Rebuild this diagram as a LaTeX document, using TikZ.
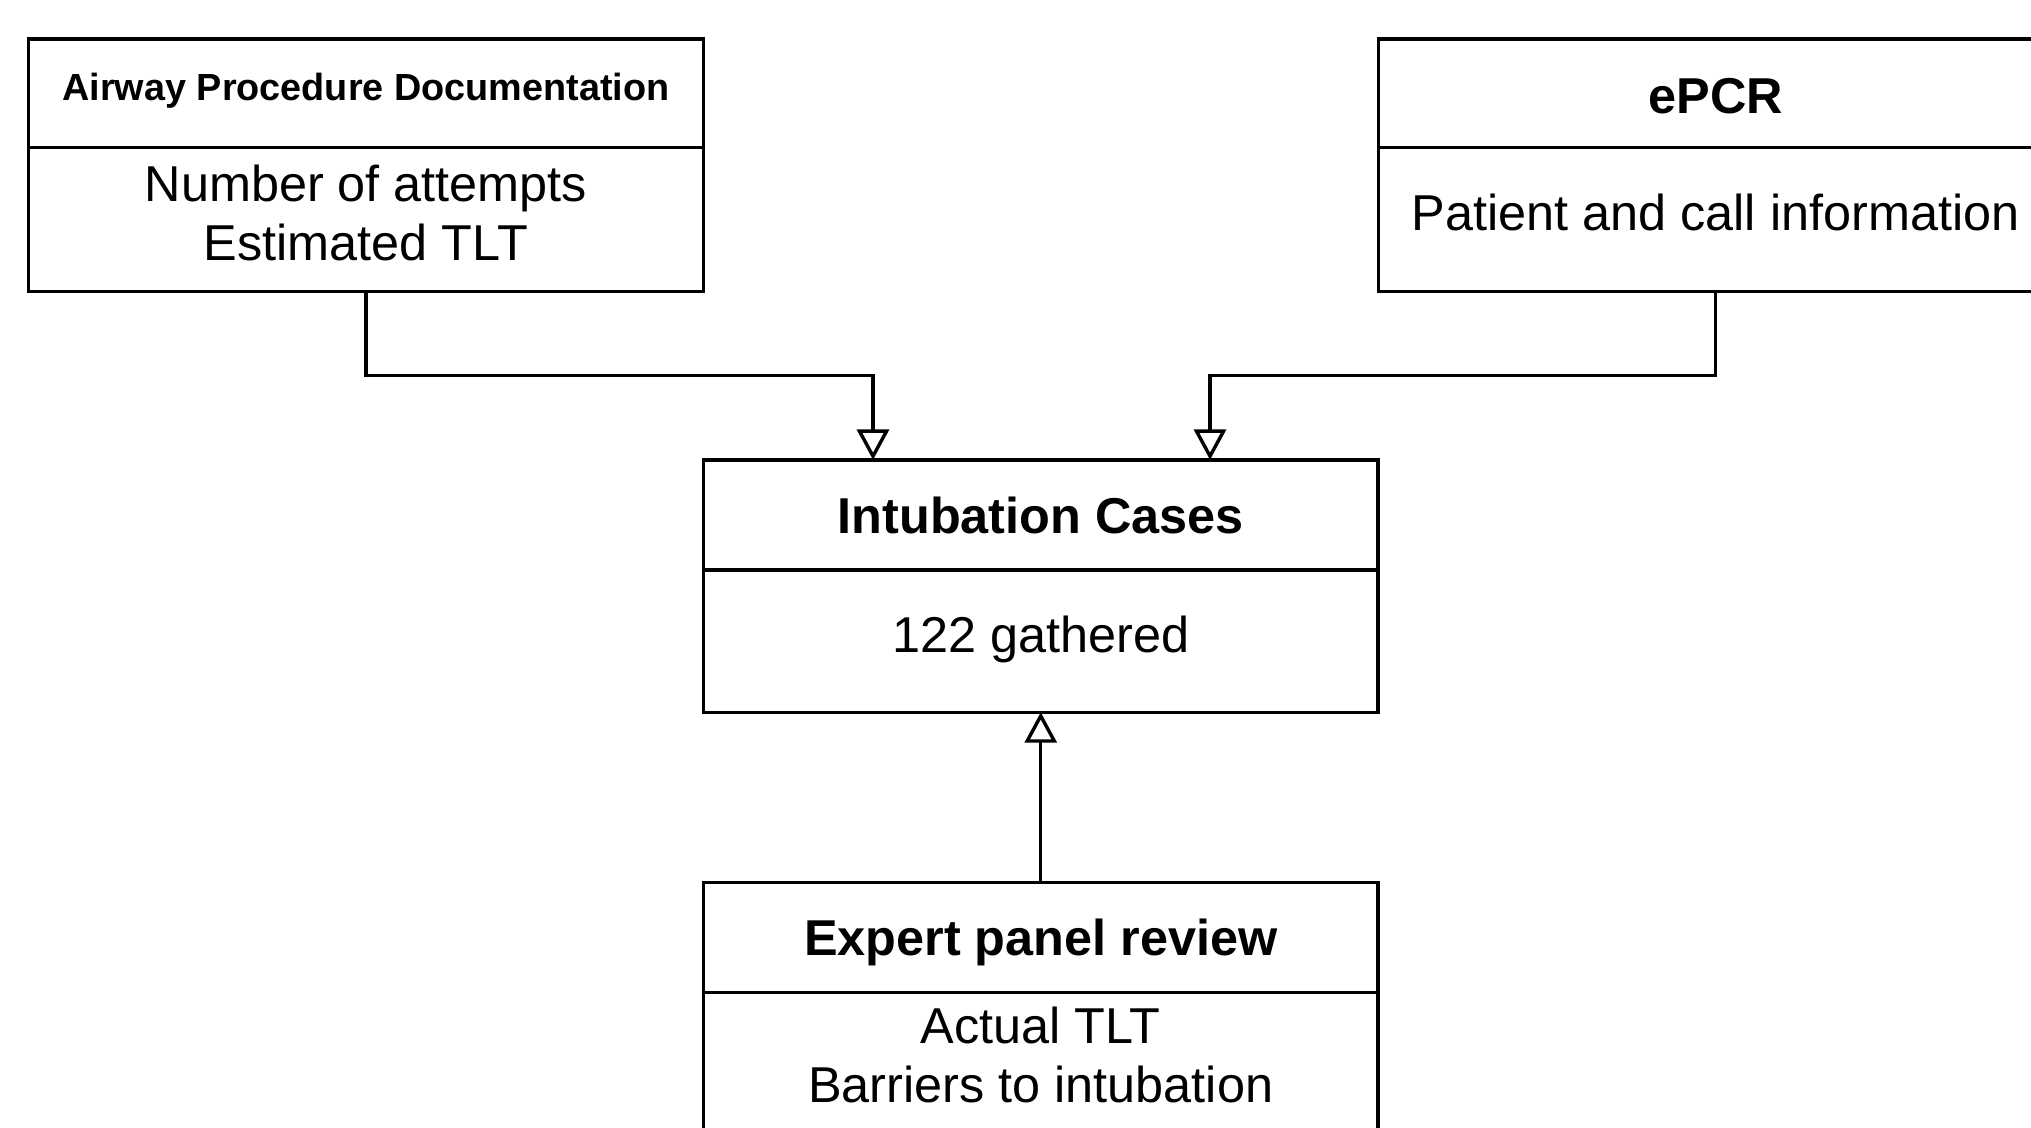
\documentclass[tikz,border=0pt]{standalone}
\usepackage{fontspec}
\setmainfont{Liberation Sans}
\usetikzlibrary{arrows.meta}
\begin{document}
\begin{tikzpicture}[x=0.25pt,y=-0.25pt,
  umlbox/.style={draw,line width=0.85pt,rectangle,inner sep=0pt,outer sep=0pt,minimum width=168.7pt,minimum height=63.1pt},
  divider/.style={line width=0.85pt},
  txt/.style={anchor=base,inner sep=0pt,font=\fontsize{12.6pt}{14.5pt}\selectfont},
  ttl/.style={anchor=base,inner sep=0pt,font=\fontsize{12.6pt}{14.5pt}\selectfont\bfseries},
  smallttl/.style={anchor=base,inner sep=0pt,font=\fontsize{9.45pt}{11pt}\selectfont\bfseries},
  arr/.style={line width=0.85pt,-{Triangle[open,length=7.6pt,width=8pt,line width=0.85pt]}}
]
\useasboundingbox (0,0) rectangle (2031,1127);
% boxes
\node[umlbox] (A) at (365.9,165.15) {};
\node[umlbox] (B) at (1715.6,165.15) {};
\node[umlbox] (C) at (1040.75,586.1) {};
\node[umlbox] (D) at (1040.75,1008.4) {};
% dividers
\draw[divider] (A.west |- 0,147.7) coordinate (adl) -- (A.east |- 0,147.7) coordinate (adr);
\draw[divider] (B.west |- 0,147.7) coordinate (bdl) -- (B.east |- 0,147.7) coordinate (bdr);
\draw[divider] (C.west |- 0,569.9) coordinate (cdl) -- (C.east |- 0,569.9) coordinate (cdr);
\draw[divider] (D.west |- 0,992.2) coordinate (ddl) -- (D.east |- 0,992.2) coordinate (ddr);
% texts
\node[smallttl] (atitle) at (365.9,100) {Airway Procedure Documentation};
\node[txt] (aline1) at (365.9,201.5) {Number of attempts};
\node[txt] (aline2) at (365.9,260) {Estimated TLT};
\node[ttl] (btitle) at (1715.6,113) {ePCR};
\node[txt] (bline1) at (1715.6,230) {Patient and call information};
\node[ttl] (ctitle) at (1040.75,533) {Intubation Cases};
\node[txt] (cline1) at (1040.75,652) {122 gathered};
\node[ttl] (dtitle) at (1040.75,955) {Expert panel review};
\node[txt] (dline1) at (1040.75,1043) {Actual TLT};
\node[txt] (dline2) at (1040.75,1102) {Barriers to intubation};
% connectors
\coordinate (cin1) at (873,459.8);
\coordinate (cin2) at (1210,459.8);
\draw[arr] (A.south) -- ++(0,84.2) -| (cin1);
\draw[arr] (B.south) -- ++(0,84.2) -| (cin2);
\draw[arr] (D.north) -- (C.south);
\end{tikzpicture}
\end{document}
